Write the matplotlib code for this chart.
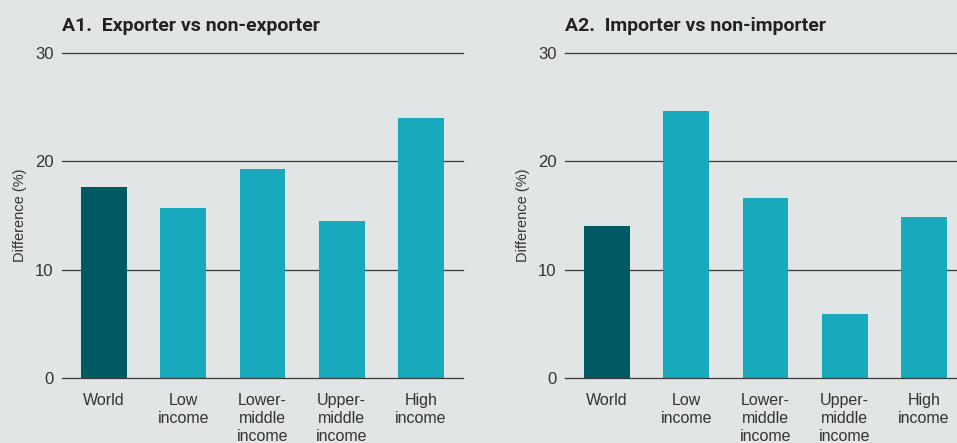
import matplotlib.pyplot as plt

categories = ['World', 'Low\nincome', 'Lower-\nmiddle\nincome', 'Upper-\nmiddle\nincome', 'High\nincome']
exporter_diff = [17.6, 15.7, 19.3, 14.5, 24.0]
importer_diff = [14.0, 24.6, 16.6, 5.9, 14.9]
titles = ['A1.  Exporter vs non-exporter', 'A2.  Importer vs non-importer']
yticks = [0, 10, 20, 30]

bg = '#e1e5e6'
dark = '#005a64'
light = '#18a9bc'
text_col = '#333333'

plt.rcParams['font.family'] = ['Liberation Sans', 'DejaVu Sans']

fig = plt.figure(figsize=(9.57, 4.43), dpi=100, facecolor=bg)

lefts = [62 / 957, 565 / 957]
for left, values, title in zip(lefts, [exporter_diff, importer_diff], titles):
    ax = fig.add_axes([left, 1 - 378 / 443, 401 / 957, 325 / 443])
    ax.set_facecolor(bg)
    colors = [dark] + [light] * (len(values) - 1)
    ax.bar(range(len(values)), values, width=0.58, color=colors, zorder=2)
    ax.set_xlim(-0.53, len(values) - 0.47)
    ax.set_ylim(0, 30)
    ax.set_yticks(yticks)
    for y in yticks:
        ax.axhline(y, color='#3a3a3a', lw=0.9, zorder=3 if y == 0 else 1, clip_on=False)
    for s in ax.spines.values():
        s.set_visible(False)
    ax.tick_params(axis='both', length=0, labelsize=11.5, colors=text_col)
    ax.tick_params(axis='y', pad=6, labelsize=12)
    ax.tick_params(axis='x', pad=11)
    ax.set_xticks(range(len(values)))
    ax.set_xticklabels(categories, linespacing=1.25)
    ax.set_ylabel('Difference (%)', fontsize=10.5, color=text_col, labelpad=6)
    ax.text(0, 1.055, title, transform=ax.transAxes, fontsize=14,
            fontweight='bold', family=['Roboto', 'DejaVu Sans'],
            color='#222222', va='bottom', ha='left')

fig.savefig('out.png', dpi=100, facecolor=bg)
